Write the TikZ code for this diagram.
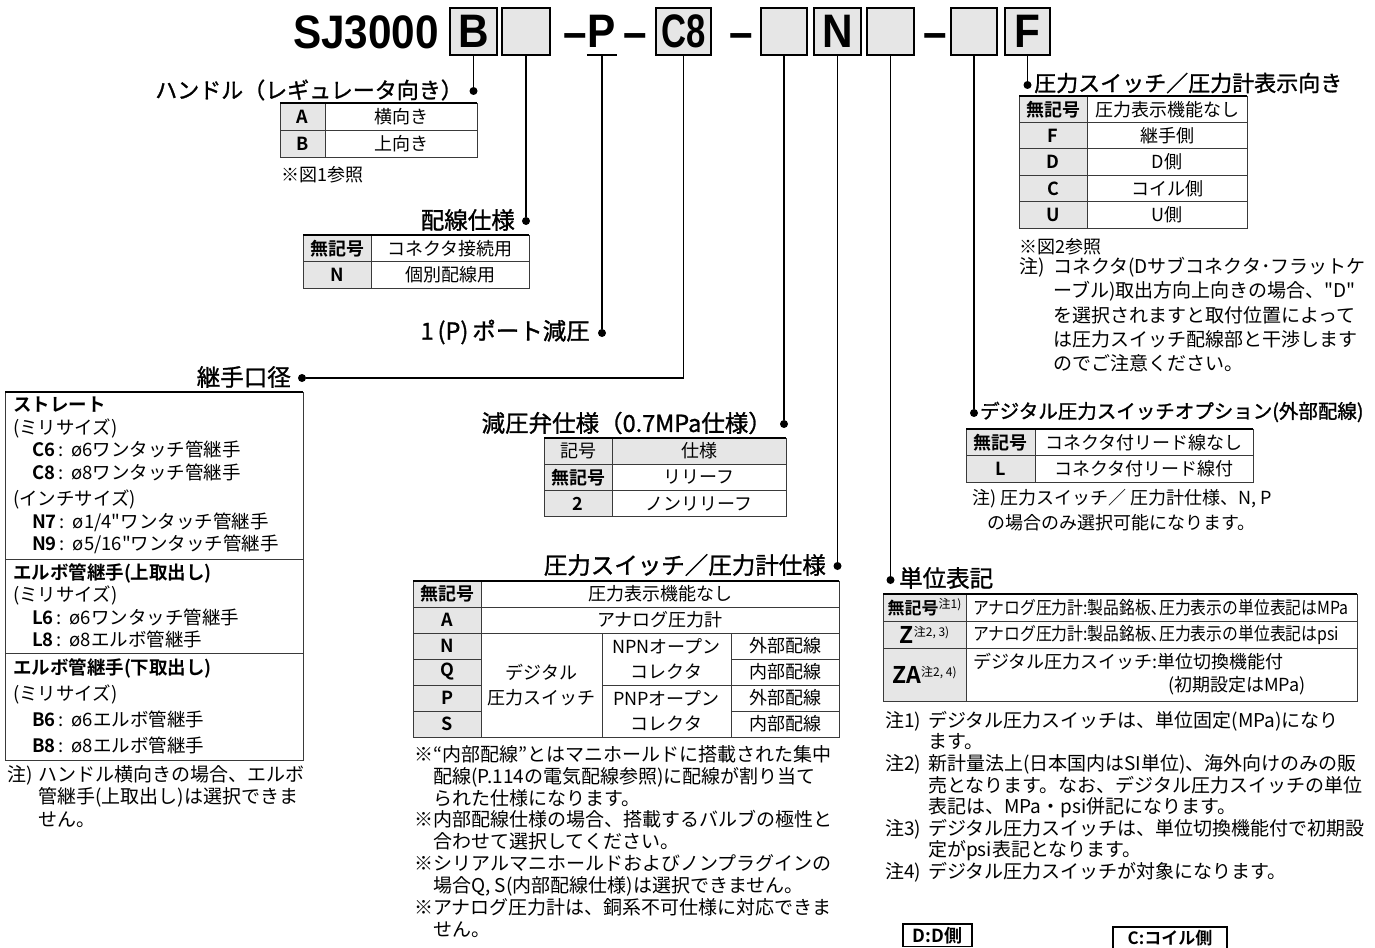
\documentclass[tikz,border=0pt]{standalone}
\usepackage{fontspec}
\setmainfont[Ligatures=TeXOff, BoldFont={Noto Sans CJK JP Bold}]{Noto Sans CJK JP}
\newfontfamily\headfont[FakeStretch=0.9]{Liberation Sans}
\newfontfamily\narrowfont[Ligatures=TeXOff, FakeStretch=0.88]{Noto Sans CJK JP}
\newfontfamily\titlefont[Ligatures=TeXOff, FakeBold=1.2]{Noto Sans CJK JP}
\usetikzlibrary{positioning}
\definecolor{keyGray}{HTML}{E6E6E6}
\definecolor{ruleInk}{HTML}{3A3A3A}
\newcommand{\setsz}[2]{\fontsize{#1}{#2}\selectfont}

\begin{document}
\begin{tikzpicture}[x=1pt, y=-1pt,
    lead/.style={line width=1.5pt},
    leaddot/.style={circle, fill, inner sep=0pt, minimum size=8pt},
    codebox/.style={draw, line width=1.3pt, fill=keyGray, minimum height=47pt, inner sep=0pt, font=\headfont\bfseries\setsz{47}{47}},
    codechar/.style={inner sep=0pt, font=\headfont\bfseries\setsz{47}{47}},
    headline/.style={inner sep=0pt, font=\titlefont\setsz{23.5}{28}},
    keycell/.style={draw=ruleInk, line width=0.9pt, outer sep=0pt, fill=keyGray, minimum height=26pt, inner sep=0pt, font=\bfseries\setsz{18}{22}},
    valcell/.style={draw=ruleInk, line width=0.9pt, outer sep=0pt, fill=white, minimum height=26pt, inner sep=0pt, font=\setsz{18}{22}},
    topline/.style={line width=2pt},
    note/.style={inner sep=0pt, align=left, font=\setsz{19}{22.5}},
    figtag/.style={draw, line width=1.6pt, inner xsep=4pt, inner ysep=3pt, anchor=north, font=\bfseries\setsz{18}{18}}]
  \useasboundingbox (0,0) rectangle (1375,947);
  \clip (0,0) rectangle (1375,947);

  % model code
  \node[codechar, anchor=base] (model) at (366,49) {SJ3000};
  \node[codebox, minimum width=47pt] (cB) at (473.5,31.5) {B};
  \node[codebox, minimum width=48pt] (cE1) at (526,31.5) {};
  \node[codechar, anchor=base] (dash1) at (575,49) {–};
  \node[codechar, minimum width=30pt, minimum height=47pt] (cP) at (602,31.5) {P};
  \node[codechar, anchor=base] (dash2) at (635,49) {–};
  \node[codebox, minimum width=55pt] (cC8) at (683.5,31.5) {\scalebox{0.82}[1]{C8}};
  \node[codechar, anchor=base] (dash3) at (741,49) {–};
  \node[codebox, minimum width=46pt] (cE2) at (784,31.5) {};
  \node[codebox, minimum width=47pt] (cN) at (837.5,31.5) {N};
  \node[codebox, minimum width=47pt] (cE3) at (890.5,31.5) {};
  \node[codechar, anchor=base] (dash4) at (935,49) {–};
  \node[codebox, minimum width=46pt] (cE4) at (974,31.5) {};
  \node[codebox, minimum width=45pt] (cF) at (1027.5,31.5) {F};
  \draw[lead] (cP.south west) -- (cP.south east);

  % handle
  \node[leaddot] (dB) at (473.5,91) {};
  \node[headline, font=\titlefont\setsz{22}{26}, anchor=east] (tB) at (463,90) {ハンドル（レギュレータ向き）};
  \draw[lead] (cB) -- (dB);
  \node[keycell, minimum width=45pt, minimum height=27pt, anchor=north west] (hA) at (280,103) {A};
  \node[valcell, minimum width=152pt, minimum height=27pt, right=0pt of hA] (hAv) {横向き};
  \node[keycell, minimum width=45pt, minimum height=27pt, below=0pt of hA] (hB) {B};
  \node[valcell, minimum width=152pt, minimum height=27pt, right=0pt of hB] (hBv) {上向き};
  \draw[topline] (hA.north west) -- (hAv.north east);
  \node[note, font=\setsz{18}{22}, anchor=west] (hRef) at (281,175) {※図1参照};

  % wiring
  \node[leaddot] (dE1) at (526,221) {};
  \node[headline, anchor=east] (tE1) at (515,220) {配線仕様};
  \draw[lead] (cE1) -- (dE1);
  \node[keycell, minimum width=68pt, minimum height=26.5pt, anchor=north west] (wNone) at (303,235) {無記号};
  \node[valcell, minimum width=158pt, minimum height=26.5pt, right=0pt of wNone] (wNonev) {コネクタ接続用};
  \node[keycell, minimum width=68pt, minimum height=26.5pt, below=0pt of wNone] (wN) {N};
  \node[valcell, minimum width=158pt, minimum height=26.5pt, right=0pt of wN] (wNv) {個別配線用};
  \draw[topline] (wNone.north west) -- (wNonev.north east);

  % port
  \node[leaddot] (dP) at (602,333) {};
  \node[headline, anchor=east] (tP) at (590,332) {1\,(P)\,ポート減圧};
  \draw[lead] (cP) -- (dP);

  % fitting
  \node[leaddot] (dJ) at (302,378) {};
  \node[headline, anchor=east] (tJ) at (291,377) {継手口径};
  \draw[lead] (cC8) |- (dJ);
  \node[valcell, minimum width=298pt, minimum height=167pt, anchor=north west, text width=282pt, align=left, font=\setsz{18.5}{22.5}] (jStr) at (5,392)
    {\textbf{ストレート}\\(ミリサイズ)\\
     \hspace*{19pt}\textbf{C6}\hspace{3pt}:\hspace{8pt}ø6ワンタッチ管継手\\
     \hspace*{19pt}\textbf{C8}\hspace{3pt}:\hspace{8pt}ø8ワンタッチ管継手\\[4pt]
     (インチサイズ)\\
     \hspace*{19pt}\textbf{N7}\hspace{3pt}:\hspace{8pt}ø1/4"ワンタッチ管継手\\
     \hspace*{19pt}\textbf{N9}\hspace{3pt}:\hspace{8pt}ø5/16"ワンタッチ管継手};
  \node[valcell, minimum width=298pt, minimum height=94pt, below=0pt of jStr, text width=282pt, align=left, font=\setsz{18.5}{22.5}] (jUp)
    {\textbf{エルボ管継手(上取出し)}\\(ミリサイズ)\\
     \hspace*{19pt}\textbf{L6}\hspace{3pt}:\hspace{8pt}ø6ワンタッチ管継手\\
     \hspace*{19pt}\textbf{L8}\hspace{3pt}:\hspace{8pt}ø8エルボ管継手};
  \node[valcell, minimum width=298pt, minimum height=107pt, below=0pt of jUp, text width=282pt, align=left, font=\setsz{18.5}{26}] (jDown)
    {\textbf{エルボ管継手(下取出し)}\\(ミリサイズ)\\
     \hspace*{19pt}\textbf{B6}\hspace{3pt}:\hspace{8pt}ø6エルボ管継手\\
     \hspace*{19pt}\textbf{B8}\hspace{3pt}:\hspace{8pt}ø8エルボ管継手};
  \draw[topline] (jStr.north west) -- (jStr.north east);
  \node[note, anchor=north west] (jNote) at (7,765)
    {\makebox[31pt][l]{注)}ハンドル横向きの場合、エルボ\\\hspace*{31pt}管継手(上取出し)は選択できま\\\hspace*{31pt}せん。};

  % relief valve
  \node[leaddot] (dE2) at (784,424) {};
  \node[headline, anchor=east] (tE2) at (772,423) {減圧弁仕様（0.7MPa仕様）};
  \draw[lead] (cE2) -- (dE2);
  \node[keycell, minimum width=68pt, minimum height=26.3pt, anchor=north west, font=\setsz{18}{22}] (rHd) at (544,438) {記号};
  \node[keycell, minimum width=174pt, minimum height=26.3pt, right=0pt of rHd, font=\setsz{18}{22}] (rHdv) {仕様};
  \node[keycell, minimum width=68pt, minimum height=26.3pt, below=0pt of rHd] (rNone) {無記号};
  \node[valcell, minimum width=174pt, minimum height=26.3pt, right=0pt of rNone] (rNonev) {リリーフ};
  \node[keycell, minimum width=68pt, minimum height=26.3pt, below=0pt of rNone] (r2) {2};
  \node[valcell, minimum width=174pt, minimum height=26.3pt, right=0pt of r2] (r2v) {ノンリリーフ};
  \draw[topline] (rHd.north west) -- (rHdv.north east);

  % switch / gauge
  \node[leaddot] (dN) at (837.5,566) {};
  \node[headline, anchor=east] (tN) at (826,565) {圧力スイッチ／圧力計仕様};
  \draw[lead] (cN) -- (dN);
  \node[keycell, minimum width=68pt, anchor=north west] (sNone) at (413,581) {無記号};
  \node[valcell, minimum width=358pt, right=0pt of sNone] (sNonev) {圧力表示機能なし};
  \node[keycell, minimum width=68pt, below=0pt of sNone] (sA) {A};
  \node[valcell, minimum width=358pt, right=0pt of sA] (sAv) {アナログ圧力計};
  \node[keycell, minimum width=68pt, below=0pt of sA] (sN) {N};
  \node[keycell, minimum width=68pt, below=0pt of sN] (sQ) {Q};
  \node[keycell, minimum width=68pt, below=0pt of sQ] (sP) {P};
  \node[keycell, minimum width=68pt, below=0pt of sP] (sS) {S};
  \node[valcell, minimum width=121pt, minimum height=104pt, anchor=north west, align=center, font=\setsz{18}{25}] (sDig) at (sN.north east) {デジタル\\圧力スイッチ};
  \node[valcell, minimum width=129pt, minimum height=52pt, anchor=north west, align=center, font=\setsz{18}{25}] (sNPN) at (sDig.north east) {NPNオープン\\コレクタ};
  \node[valcell, minimum width=129pt, minimum height=52pt, below=0pt of sNPN, align=center, font=\setsz{18}{25}] (sPNP) {PNPオープン\\コレクタ};
  \node[valcell, minimum width=108pt, anchor=north west] (sN4) at (sNPN.north east) {外部配線};
  \node[valcell, minimum width=108pt, below=0pt of sN4] (sQ4) {内部配線};
  \node[valcell, minimum width=108pt, below=0pt of sQ4] (sP4) {外部配線};
  \node[valcell, minimum width=108pt, below=0pt of sP4] (sS4) {内部配線};
  \draw[topline] (sNone.north west) -- (sNonev.north east);
  \node[note, font=\setsz{19}{21.9}, anchor=north west] (sNote) at (414,745)
    {※“内部配線”とはマニホールドに搭載された集中\\
     \hspace*{19pt}配線(P.114の電気配線参照)に配線が割り当て\\
     \hspace*{19pt}られた仕様になります。\\
     ※内部配線仕様の場合、搭載するバルブの極性と\\
     \hspace*{19pt}合わせて選択してください。\\
     ※シリアルマニホールドおよびノンプラグインの\\
     \hspace*{19pt}場合Q, S(内部配線仕様)は選択できません。\\
     ※アナログ圧力計は、銅系不可仕様に対応できま\\
     \hspace*{19pt}せん。};

  % unit
  \node[leaddot] (dE3) at (890.5,580) {};
  \node[headline, anchor=west] (tE3) at (899,578) {単位表記};
  \draw[lead] (cE3) -- (dE3);
  \node[keycell, minimum width=83pt, minimum height=27pt, anchor=north west, font=\bfseries\setsz{17}{22}] (uNone) at (883,594) {無記号\raisebox{6pt}{\mdseries\setsz{12}{12}注1)}};
  \node[valcell, minimum width=391pt, minimum height=27pt, right=0pt of uNone, text width=377pt, align=left, font=\narrowfont\setsz{18}{22}] (uNonev) {アナログ圧力計:製品銘板､圧力表示の単位表記はMPa};
  \node[keycell, minimum width=83pt, minimum height=27pt, below=0pt of uNone] (uZ) {{\setsz{23}{23}Z}\raisebox{7pt}{\mdseries\setsz{12}{12}注2, 3)}};
  \node[valcell, minimum width=391pt, minimum height=27pt, right=0pt of uZ, text width=377pt, align=left, font=\narrowfont\setsz{18}{22}] (uZv) {アナログ圧力計:製品銘板､圧力表示の単位表記はpsi};
  \node[keycell, minimum width=83pt, minimum height=53pt, below=0pt of uZ] (uZA) {{\setsz{23}{23}ZA}\raisebox{7pt}{\mdseries\setsz{12}{12}注2, 4)}};
  \node[valcell, minimum width=391pt, minimum height=53pt, right=0pt of uZA, text width=377pt, align=left, font=\setsz{18}{23}] (uZAv) {デジタル圧力スイッチ:単位切換機能付\\\hspace*{195pt}(初期設定はMPa)};
  \draw[topline] (uNone.north west) -- (uNonev.north east);
  \node[note, font=\setsz{19}{21.6}, anchor=north west] (uNote) at (885,711)
    {\makebox[43pt][l]{注1)}デジタル圧力スイッチは、単位固定(MPa)になり\\
     \hspace*{43pt}ます。\\
     \makebox[43pt][l]{注2)}新計量法上(日本国内はSI単位)、海外向けのみの販\\
     \hspace*{43pt}売となります。なお、デジタル圧力スイッチの単位\\
     \hspace*{43pt}表記は、MPa・psi併記になります。\\
     \makebox[43pt][l]{注3)}デジタル圧力スイッチは、単位切換機能付で初期設\\
     \hspace*{43pt}定がpsi表記となります。\\
     \makebox[43pt][l]{注4)}デジタル圧力スイッチが対象になります。};

  % option
  \node[leaddot] (dE4) at (974,413) {};
  \node[headline, font=\titlefont\setsz{19.5}{24}, anchor=west] (tE4) at (980,412) {デジタル圧力スイッチオプション(外部配線)};
  \draw[lead] (cE4) -- (dE4);
  \node[keycell, minimum width=69pt, minimum height=26.5pt, anchor=north west] (oNone) at (966,429) {無記号};
  \node[valcell, minimum width=218pt, minimum height=26.5pt, right=0pt of oNone] (oNonev) {コネクタ付リード線なし};
  \node[keycell, minimum width=69pt, minimum height=26.5pt, below=0pt of oNone] (oL) {L};
  \node[valcell, minimum width=218pt, minimum height=26.5pt, right=0pt of oL] (oLv) {コネクタ付リード線付};
  \draw[topline] (oNone.north west) -- (oNonev.north east);
  \node[note, font=\setsz{18}{25}, anchor=north west] (oNote) at (972,489)
    {\makebox[28pt][l]{注)}圧力スイッチ／ 圧力計仕様、N, P\\\hspace*{15pt}の場合のみ選択可能になります。};

  % display direction
  \node[leaddot] (dF) at (1027.5,85) {};
  \node[headline, font=\titlefont\setsz{22}{26}, anchor=west] (tF) at (1034,83) {圧力スイッチ／圧力計表示向き};
  \draw[lead] (cF) -- (dF);
  \node[keycell, minimum width=68pt, minimum height=26.4pt, anchor=north west] (fNone) at (1019,96) {無記号};
  \node[valcell, minimum width=160pt, minimum height=26.4pt, right=0pt of fNone] (fNonev) {圧力表示機能なし};
  \node[keycell, minimum width=68pt, minimum height=26.4pt, below=0pt of fNone] (fF) {F};
  \node[valcell, minimum width=160pt, minimum height=26.4pt, right=0pt of fF] (fFv) {継手側};
  \node[keycell, minimum width=68pt, minimum height=26.4pt, below=0pt of fF] (fD) {D};
  \node[valcell, minimum width=160pt, minimum height=26.4pt, right=0pt of fD] (fDv) {D側};
  \node[keycell, minimum width=68pt, minimum height=26.4pt, below=0pt of fD] (fC) {C};
  \node[valcell, minimum width=160pt, minimum height=26.4pt, right=0pt of fC] (fCv) {コイル側};
  \node[keycell, minimum width=68pt, minimum height=26.4pt, below=0pt of fC] (fU) {U};
  \node[valcell, minimum width=160pt, minimum height=26.4pt, right=0pt of fU] (fUv) {U側};
  \draw[topline] (fNone.north west) -- (fNonev.north east);
  \node[note, font=\setsz{18}{22}, anchor=west] (fRef) at (1019,247) {※図2参照};
  \node[note, font=\setsz{19}{24.3}, anchor=north west] (fNote) at (1019,257)
    {\makebox[34pt][l]{注)}コネクタ(Dサブコネクタ･フラットケ\\
     \hspace*{34pt}ーブル)取出方向上向きの場合、"D"\\
     \hspace*{34pt}を選択されますと取付位置によって\\
     \hspace*{34pt}は圧力スイッチ配線部と干渉します\\
     \hspace*{34pt}のでご注意ください。};

  % figure tags
  \node[figtag, minimum width=69pt] (figD) at (937.5,923) {D:D側};
  \node[figtag, minimum width=114pt, font=\bfseries\setsz{17}{17}] (figC) at (1170,926) {C:コイル側};
\end{tikzpicture}
\end{document}
